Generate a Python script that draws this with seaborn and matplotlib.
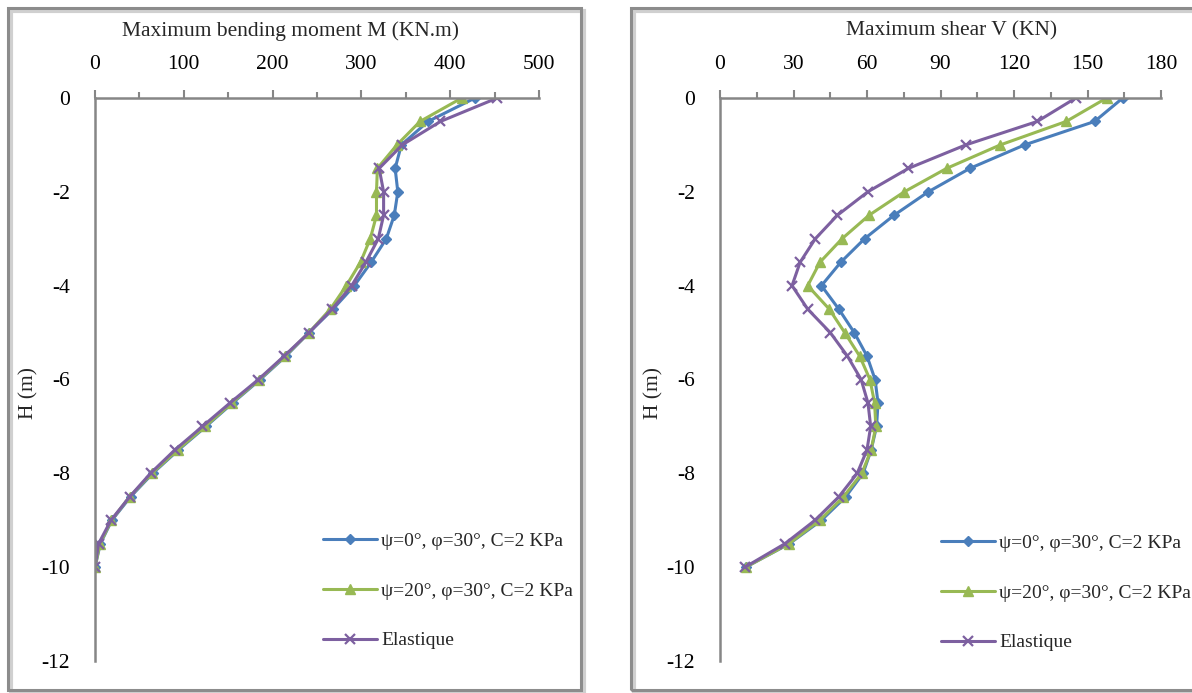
import matplotlib
matplotlib.use("Agg")
import matplotlib.pyplot as plt
import seaborn as sns
import pandas as pd
from matplotlib.patches import Rectangle
from matplotlib.ticker import MultipleLocator

# ---------------- data ----------------
depth = [0, -0.5, -1, -1.5, -2, -2.5, -3, -3.5, -4, -4.5, -5,
         -5.5, -6, -6.5, -7, -7.5, -8, -8.5, -9, -9.5, -10]

labels = ["ψ=0°, φ=30°, C=2 KPa",
          "ψ=20°, φ=30°, C=2 KPa",
          "Elastique"]

M_psi0 = [428, 375, 345, 338, 341, 337, 328, 311, 292, 268, 241,
          215, 186, 155, 125, 94, 65, 40, 19, 6, 0]
M_psi20 = [413, 366, 340, 318, 317, 317, 310, 299, 283, 265, 241,
           214, 185, 154, 124, 93, 64, 39, 18.5, 5.5, 0]
M_elast = [453, 389, 346, 320, 325, 325, 319, 305, 289, 267, 241,
           213, 184, 152, 121, 90, 62.5, 39, 18, 4, 0]

V_psi0 = [164.4, 152.9, 124.3, 102, 85, 71, 59, 49.3, 41.4, 48.5, 54.8,
          60, 63.3, 64.5, 63.9, 61.7, 58.4, 51.3, 41.4, 28.3, 10.5]
V_psi20 = [157.8, 141.3, 114.4, 92.5, 75.2, 60.8, 49.8, 40.8, 35.8, 44.6, 50.9,
           57, 61.2, 63.1, 63.6, 61.7, 57.9, 50.4, 40.7, 28.1, 10.5]
V_elast = [145.2, 129.5, 100.3, 76.9, 60.3, 47.9, 38.9, 32.7, 29.4, 35.8, 45,
           52, 57.6, 60.4, 61.5, 60, 56, 48.5, 38.8, 26.5, 10.2]

M_ticks = [0, 100, 200, 300, 400, 500]
V_ticks = [0, 30, 60, 90, 120, 150, 180]
H_ticks = [0, -2, -4, -6, -8, -10, -12]

# ---------------- style ----------------
sns.set_theme(style="white")
plt.rcParams["font.family"] = ["Liberation Serif", "DejaVu Serif"]
plt.rcParams["axes.unicode_minus"] = False

colors = ["#4a7ebb", "#98b954", "#7d60a0"]
markers = ["D", "^", "x"]
msizes = [5.5, 7.5, 7]
mews = [1.0, 1.0, 1.6]

W, Hh = 1192, 693
fig = plt.figure(figsize=(W / 100, Hh / 100), dpi=100)
fig.patch.set_facecolor("white")

def px(x0, y0, x1, y1):
    return [x0 / W, 1 - y1 / Hh, (x1 - x0) / W, (y1 - y0) / Hh]

# chart frames (Excel style)
for (fx0, fx1) in [(8, 581), (631, 1260)]:
    fig.add_artist(Rectangle(((fx0 + 3) / W, 1 - (690 + 3) / Hh), (fx1 - fx0) / W, (690 - 8) / Hh,
                             transform=fig.transFigure, facecolor="none",
                             edgecolor="#d0d0d0", lw=3, zorder=0))
    fig.add_artist(Rectangle((fx0 / W, 1 - 690 / Hh), (fx1 - fx0) / W, (690 - 8) / Hh,
                             transform=fig.transFigure, facecolor="none",
                             edgecolor="#8c8c8c", lw=2.2, zorder=1))

ax1 = fig.add_axes(px(95, 98, 539, 661))
ax2 = fig.add_axes(px(720, 98, 1161, 661))

panels = [
    (ax1, [M_psi0, M_psi20, M_elast], M_ticks, 50, (0, 500)),
    (ax2, [V_psi0, V_psi20, V_elast], V_ticks, 15, (0, 180)),
]

fs = 15.5
lfs = 14
for ax, series, xt, xminor, xlim in panels:
    for vals, lab, c, m, ms, mw in zip(series, labels, colors, markers, msizes, mews):
        df = pd.DataFrame({"x": vals, "H": depth})
        sns.lineplot(data=df, x="x", y="H", ax=ax, sort=False, estimator=None,
                     color=c, lw=2.2, marker=m, markersize=ms,
                     markeredgecolor=c, markerfacecolor=c, markeredgewidth=mw,
                     label=lab, legend=False)
    ax.set_xlim(*xlim)
    ax.set_ylim(-12, 0)
    ax.set_xticks(xt)
    ax.set_yticks(H_ticks)
    ax.xaxis.set_minor_locator(MultipleLocator(xminor))
    ax.yaxis.set_minor_locator(MultipleLocator(1))
    ax.xaxis.tick_top()
    ax.set_facecolor("none")
    for s in ["right", "bottom"]:
        ax.spines[s].set_visible(False)
    for s in ["left", "top"]:
        ax.spines[s].set_color("#868686")
        ax.spines[s].set_linewidth(1.8)
    ax.tick_params(axis="both", which="both", direction="out", colors="#868686",
                   labelcolor="black", labelsize=fs, width=1.5)
    ax.tick_params(axis="x", which="major", length=6, pad=11)
    ax.tick_params(axis="x", which="minor", length=4)
    ax.tick_params(axis="y", which="major", length=6, pad=12)
    ax.tick_params(axis="y", which="minor", length=4)
    ax.set_xlabel("")
    ax.set_ylabel("H (m)", fontsize=fs)
    ax.yaxis.set_label_coords(-57 / (ax.get_position().width * W), 0.476)
    ax.grid(False)

fig.text(290 / W, 1 - 31 / Hh, "Maximum bending moment M (KN.m)",
         ha="center", va="center", fontsize=fs)
fig.text(952 / W, 1 - 31 / Hh, "Maximum shear V (KN)",
         ha="center", va="center", fontsize=fs)

for ax, lx, ly in [(ax1, 323, 532), (ax2, 941, 534)]:
    h, l = ax.get_legend_handles_labels()
    ax.legend(h, l, loc="upper left", bbox_to_anchor=(lx / W, 1 - ly / Hh),
              bbox_transform=fig.transFigure, frameon=False, fontsize=lfs,
              borderpad=0, borderaxespad=0, handlelength=2.8, handletextpad=0.2,
              labelspacing=1.66, numpoints=1)

fig.savefig("out.png", dpi=100)
